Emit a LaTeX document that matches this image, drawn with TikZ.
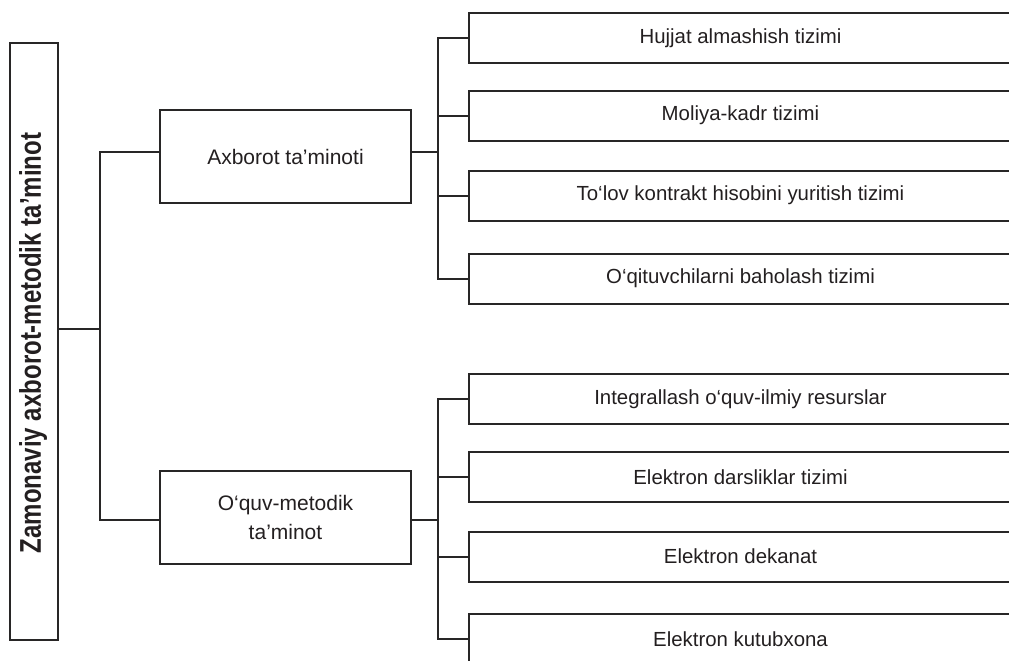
\documentclass[tikz,border=0pt]{standalone}
\usepackage{fontspec}
\setmainfont{Liberation Sans}
\usepackage{graphicx}
\definecolor{ln}{RGB}{40,38,38}
\definecolor{tx}{RGB}{35,31,32}
\begin{document}
\begin{tikzpicture}[x=1pt,y=-1pt,
  conn/.style={draw=ln, line width=2pt},
  rbox/.style={draw=ln, line width=2pt, rectangle, inner sep=0pt,
    minimum width=543pt, minimum height=50pt, text=tx,
    font=\fontsize{20.4}{24}\selectfont},
  mbox/.style={draw=ln, line width=2pt, rectangle, inner sep=0pt,
    minimum width=251pt, minimum height=93pt, text=tx, align=center,
    font=\fontsize{21}{29}\selectfont},
  lbox/.style={draw=ln, line width=2.6pt, rectangle, inner sep=0pt,
    minimum width=48pt, minimum height=597pt},
  ltext/.style={rotate=90, text=tx, inner sep=0pt,
    font=\fontsize{24}{28}\selectfont\bfseries}]
\useasboundingbox (0,0) rectangle (1009,661);
\clip (0,0) rectangle (1009,661);
\fill[white] (0,0) rectangle (1009,661);

% left box
\node[lbox] (L) at (34,341.5) {};
\node[ltext] (Lt) at (33,343) {\scalebox{1}[1.25]{Zamonaviy axborot-metodik ta’minot}};

% middle boxes
\node[mbox] (A) at (285.5,156.5) {Axborot ta’minoti};
\node[mbox] (O) at (285.5,517.5) {O‘quv-metodik\\ta’minot};

% right boxes
\node[rbox] (R1) at (740.5,38)    {Hujjat almashish tizimi};
\node[rbox] (R2) at (740.5,115.5) {Moliya-kadr tizimi};
\node[rbox] (R3) at (740.5,195.5) {To‘lov kontrakt hisobini yuritish tizimi};
\node[rbox] (R4) at (740.5,278.5) {O‘qituvchilarni baholash tizimi};
\node[rbox] (R5) at (740.5,399)   {Integrallash o‘quv-ilmiy resurslar};
\node[rbox] (R6) at (740.5,477)   {Elektron darsliklar tizimi};
\node[rbox] (R7) at (740.5,556.5) {Elektron dekanat};
\node[rbox] (R8) at (740.5,639)   {Elektron kutubxona};

% junction points
\coordinate (j1) at (100,329);
\coordinate (ja) at (100,152);
\coordinate (jo) at (100,520);
\coordinate (ua) at (438,152);
\coordinate (uo) at (438,520);

% left bracket
\draw[conn] (L.east |- j1) -- (j1);
\draw[conn] (A.west |- ja) -- (ja) -- (jo) -- (O.west |- jo);

% upper right bracket
\draw[conn] (A.east |- ua) -- (ua);
\draw[conn] (R1.west) -| (R4.west -| ua) -- (R4.west);
\draw[conn] (R2.west -| ua) -- (R2.west);
\draw[conn] (R3.west -| ua) -- (R3.west);

% lower right bracket
\draw[conn] (O.east |- uo) -- (uo);
\draw[conn] (R5.west) -| (R8.west -| uo) -- (R8.west);
\draw[conn] (R6.west -| uo) -- (R6.west);
\draw[conn] (R7.west -| uo) -- (R7.west);
\end{tikzpicture}
\end{document}
